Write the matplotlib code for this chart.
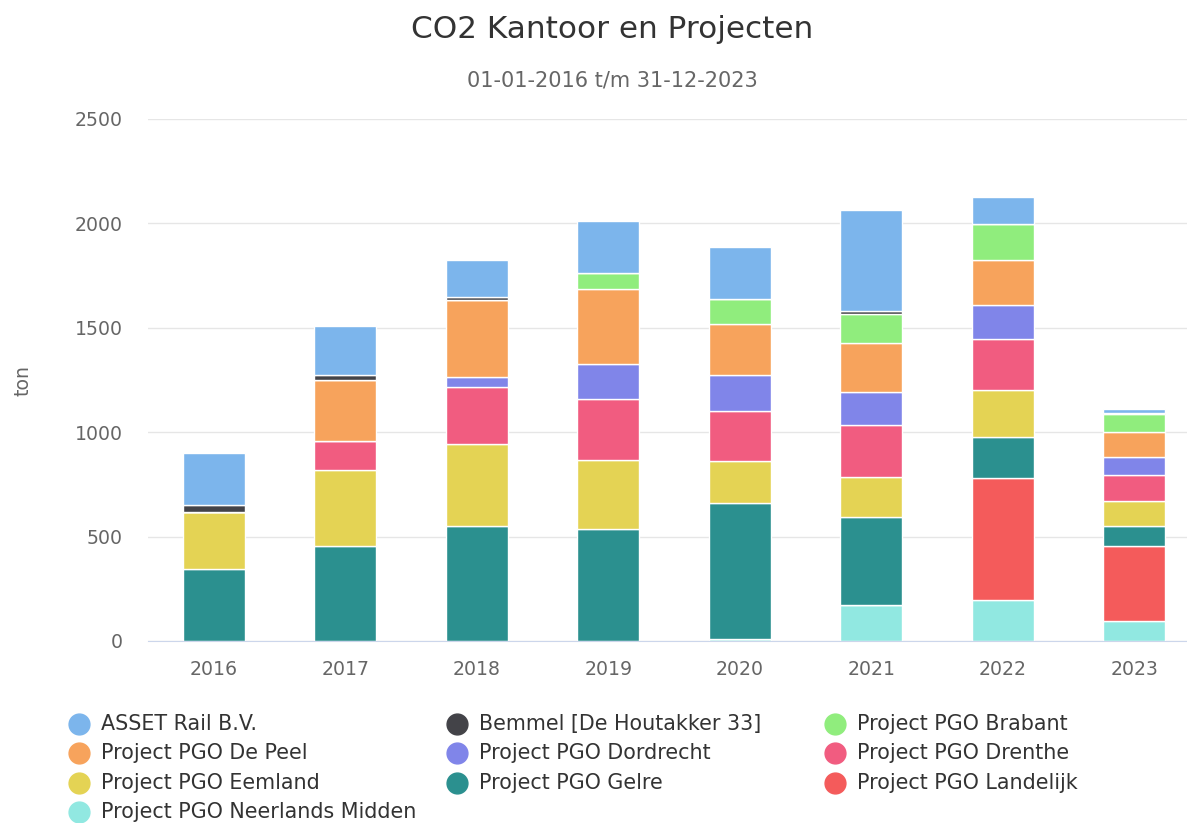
import numpy as np
import matplotlib
matplotlib.use("Agg")
import matplotlib.pyplot as plt
from matplotlib.lines import Line2D

years = ['2016', '2017', '2018', '2019', '2020', '2021', '2022', '2023']

# series in legend order (first one is stacked on top)
names = ['ASSET Rail B.V.', 'Bemmel [De Houtakker 33]', 'Project PGO Brabant',
         'Project PGO De Peel', 'Project PGO Dordrecht', 'Project PGO Drenthe',
         'Project PGO Eemland', 'Project PGO Gelre', 'Project PGO Landelijk',
         'Project PGO Neerlands Midden']
asset = [250, 233, 175, 248, 249, 484, 130, 20]
bemmel = [32, 24, 16, 0, 0, 13, 0, 3]
brabant = [0, 0, 0, 80, 123, 142, 168, 86]
de_peel = [0, 291, 367, 358, 243, 232, 216, 122]
dordrecht = [0, 0, 48, 165, 173, 159, 167, 87]
drenthe = [0, 141, 273, 293, 240, 250, 244, 123]
eemland = [272, 365, 393, 332, 200, 190, 221, 118]
gelre = [346, 453, 552, 536, 652, 423, 199, 100]
landelijk = [0, 0, 0, 0, 0, 0, 584, 358]
neerlands = [0, 0, 0, 0, 8, 171, 196, 95]

series = [asset, bemmel, brabant, de_peel, dordrecht, drenthe, eemland, gelre, landelijk, neerlands]
colors = ['#7cb5ec', '#434348', '#90ed7d', '#f7a35c', '#8085e9', '#f15c80',
          '#e4d354', '#2b908f', '#f45b5b', '#91e8e1']

W, H = 1187, 823
fig = plt.figure(figsize=(W / 100, H / 100), dpi=100)
ax = fig.add_axes([148 / W, 1 - 641 / H, 1052 / W, 522 / H])

x = np.arange(len(years))
bottom = np.zeros(len(years))
# stack from the last series upwards
for vals, col in zip(series[::-1], colors[::-1]):
    v = np.array(vals, dtype=float)
    ax.bar(x, v, width=0.47, bottom=bottom, color=col, edgecolor='white', linewidth=1)
    bottom += v

ax.set_xlim(-0.5, len(years) - 0.5)
ax.set_ylim(0, 2500)
ax.set_yticks([0, 500, 1000, 1500, 2000, 2500])
ax.set_xticks(x)
ax.set_xticklabels(years)
ax.yaxis.grid(True, color='#e6e6e6', linewidth=1)
ax.set_axisbelow(True)
for s in ['top', 'right', 'left']:
    ax.spines[s].set_visible(False)
ax.spines['bottom'].set_color('#ccd6eb')
ax.tick_params(axis='x', length=0, pad=14, labelsize=13.6, labelcolor='#666666')
ax.tick_params(axis='y', length=0, pad=18, labelsize=13.6, labelcolor='#666666')
ax.set_ylabel('ton', color='#666666', fontsize=13.6)
ax.yaxis.set_label_coords(-116 / 1052, 0.5)

fig.text(612 / W, 1 - 29 / H, 'CO2 Kantoor en Projecten', ha='center', va='center',
         fontsize=22.4, color='#333333')
fig.text(612 / W, 1 - 80 / H, '01-01-2016 t/m 31-12-2023', ha='center', va='center',
         fontsize=15, color='#666666')

# legend, filled row by row like the original
col_x = [79, 457, 835]
row_y = [724, 753, 783, 812]
for i, (name, col) in enumerate(zip(names, colors)):
    cx = col_x[i % 3]
    cy = row_y[i // 3]
    fig.add_artist(Line2D([cx / W], [1 - cy / H], marker='o', markersize=15,
                          color=col, linestyle='none', transform=fig.transFigure))
    fig.text((cx + 22) / W, 1 - cy / H, name, ha='left', va='center',
             fontsize=14.9, color='#333333')

fig.savefig('out.png', dpi=100, facecolor='white')
